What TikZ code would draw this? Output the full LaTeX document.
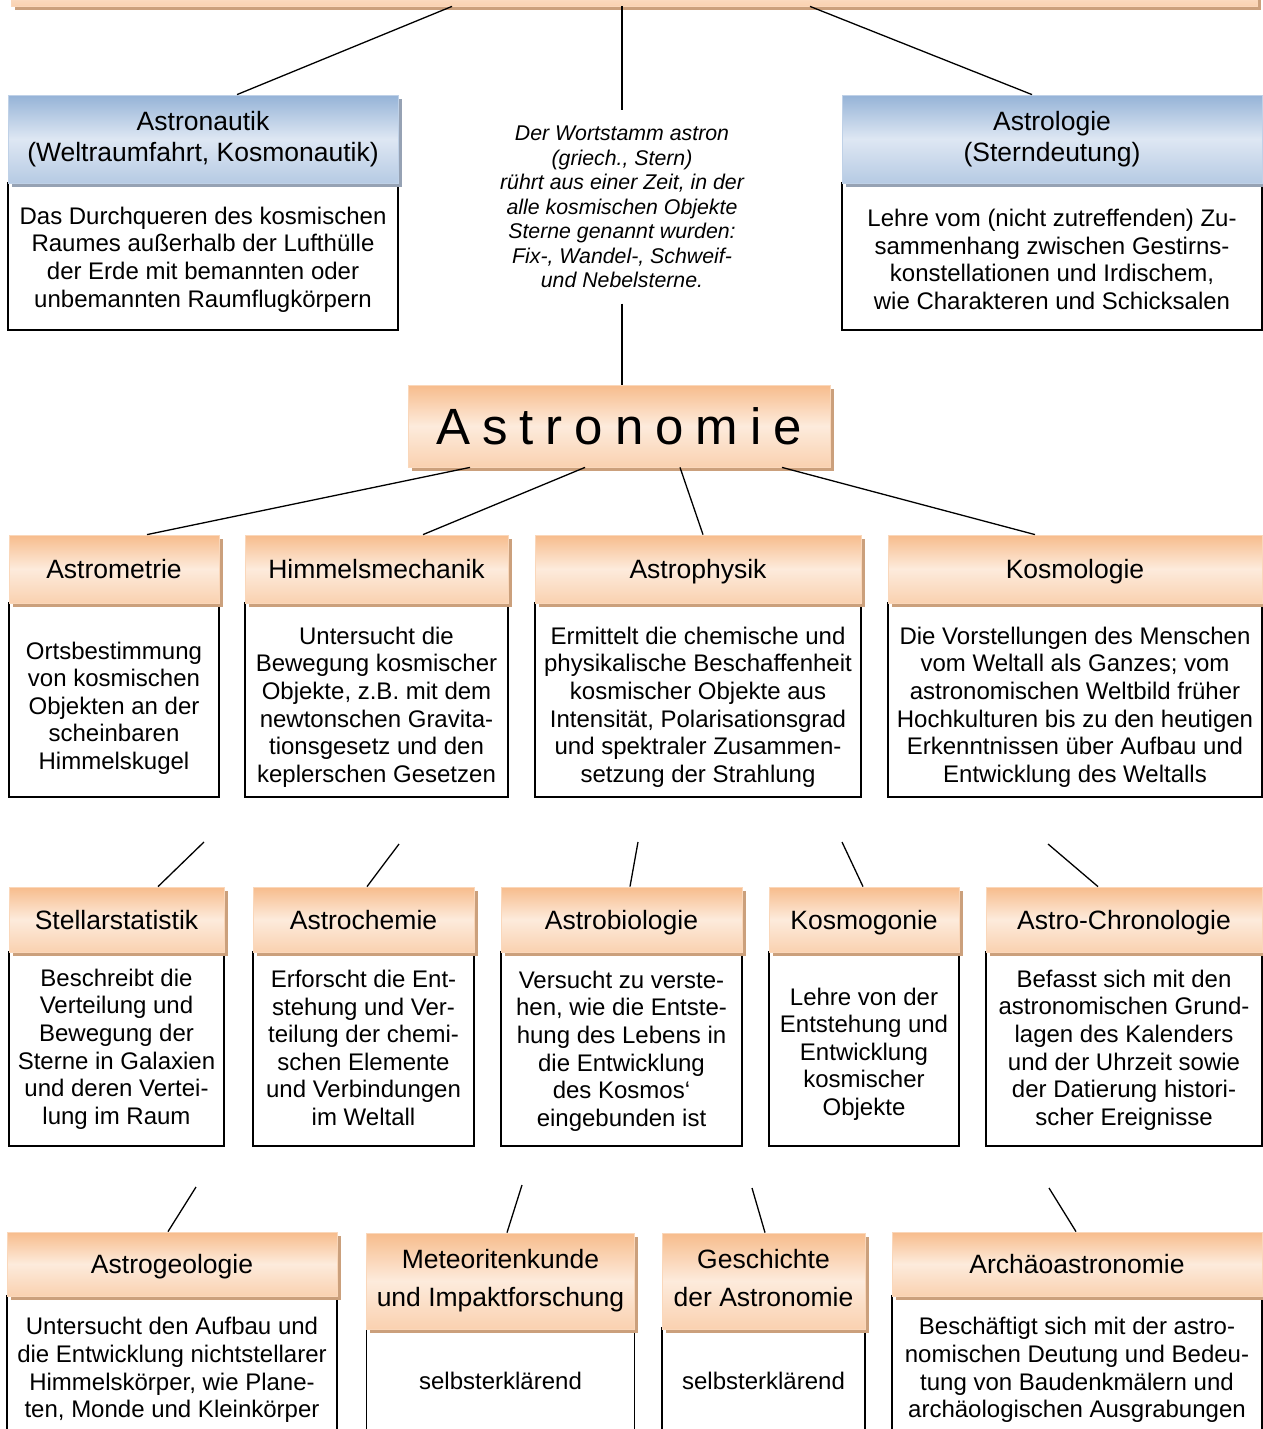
\documentclass[tikz,border=0pt]{standalone}
\usepackage{fontspec}
\setmainfont{Liberation Sans}
\newfontfamily\spacedfont[LetterSpace=23.5]{Liberation Sans}
\usetikzlibrary{shadows}
\definecolor{hdrcol}{RGB}{247,188,140}
\definecolor{hdrlight}{RGB}{253,235,220}
\definecolor{hdrshade}{RGB}{203,160,124}
\definecolor{bluecol}{RGB}{149,179,215}
\definecolor{bluelight}{RGB}{222,231,243}
\definecolor{blueshade}{RGB}{150,162,180}

\begin{document}
\begin{tikzpicture}[
    x=1pt, y=-1pt,
    line width=1.3pt,
    boxbase/.style={rectangle, inner sep=0pt, align=center, line width=0.8pt,
      font=\fontsize{26.5}{31}\selectfont},
    orangehdr/.style={boxbase, draw=hdrcol!60!white,
      top color=hdrcol, bottom color=hdrcol!55!hdrlight, middle color=hdrlight,
      general shadow={fill=hdrshade, shadow xshift=3.5pt, shadow yshift=-4pt}},
    bluehdr/.style={boxbase, draw=bluecol!60!white,
      top color=bluecol, bottom color=bluecol!55!bluelight, middle color=bluelight,
      general shadow={fill=blueshade, shadow xshift=3.5pt, shadow yshift=-4pt}},
    oneline/.style={text depth=0pt},
    twoline/.style={font=\fontsize{26.5}{38}\selectfont},
    txtbox/.style={rectangle, draw=black, fill=white, line width=1.4pt, inner sep=0pt},
    txt/.style={align=center, inner sep=0pt, font=\fontsize{24}{27.6}\selectfont},
    link/.style={draw=black, line width=1.3pt}
  ]
  \useasboundingbox (0,0) rectangle (1263,1429);

  % --- top strip (cut off) ----------------------------------------------
  \node[orangehdr, minimum width=1246pt, minimum height=42pt] (Top) at (634,-15) {};

  % --- row 1: Astronautik, word stem, Astrologie -------------------------
  \node[txtbox, minimum width=390pt, minimum height=147pt] (NautBox) at (203,256.5) {};
  \node[txt] (NautTxt) at (203,259.5)
    {Das Durchqueren des kosmischen\\Raumes außerhalb der Lufthülle\\der Erde mit bemannten oder\\unbemannten Raumflugkörpern};
  \node[bluehdr, minimum width=390pt, minimum height=88pt] (Naut) at (203,139)
    {Astronautik\\(Weltraumfahrt, Kosmonautik)};

  \node[txtbox, minimum width=420pt, minimum height=147pt] (LogieBox) at (1052,256.5) {};
  \node[txt] (LogieTxt) at (1052,259.5)
    {Lehre vom (nicht zutreffenden) Zu-\\sammenhang zwischen Gestirns-\\konstellationen und Irdischem,\\wie Charakteren und Schicksalen};
  \node[bluehdr, minimum width=420pt, minimum height=88pt] (Logie) at (1052,139)
    {Astrologie\\(Sterndeutung)};

  \node[align=center, inner sep=0pt, minimum height=192pt,
        font=\itshape\fontsize{21.3}{24.5}\selectfont] (Wort) at (622,207)
    {Der Wortstamm astron\\(griech., Stern)\\rührt aus einer Zeit, in der\\alle kosmischen Objekte\\Sterne genannt wurden:\\Fix-, Wandel-, Schweif-\\und Nebelsterne.};

  % --- Astronomie ---------------------------------------------------------
  \node[orangehdr, oneline, minimum width=422pt, minimum height=82pt,
        font=\spacedfont\fontsize{51}{60}\selectfont] (Astro) at (619,426) {Astronomie};

  % --- row 2 --------------------------------------------------------------
  \node[txtbox, minimum width=210pt, minimum height=194pt] (MetrieBox) at (114,700) {};
  \node[txt] (MetrieTxt) at (114,708)
    {Ortsbestimmung\\von kosmischen\\Objekten an der\\scheinbaren\\Himmelskugel};
  \node[orangehdr, oneline, minimum width=210pt, minimum height=68pt] (Metrie) at (114,569) {Astrometrie};

  \node[txtbox, minimum width=263pt, minimum height=194pt] (MechBox) at (376.5,700) {};
  \node[txt] (MechTxt) at (376.5,707)
    {Untersucht die\\Bewegung kosmischer\\Objekte, z.B. mit dem\\newtonschen Gravita-\\tionsgesetz und den\\keplerschen Gesetzen};
  \node[orangehdr, oneline, minimum width=263pt, minimum height=68pt] (Mech) at (376.5,569) {Himmelsmechanik};

  \node[txtbox, minimum width=326pt, minimum height=194pt] (PhysBox) at (698,700) {};
  \node[txt] (PhysTxt) at (698,707)
    {Ermittelt die chemische und\\physikalische Beschaffenheit\\kosmischer Objekte aus\\Intensität, Polarisationsgrad\\und spektraler Zusammen-\\setzung der Strahlung};
  \node[orangehdr, oneline, minimum width=326pt, minimum height=68pt] (Phys) at (698,569) {Astrophysik};

  \node[txtbox, minimum width=374pt, minimum height=194pt] (KosmoBox) at (1075,700) {};
  \node[txt] (KosmoTxt) at (1075,707)
    {Die Vorstellungen des Menschen\\vom Weltall als Ganzes; vom\\astronomischen Weltbild früher\\Hochkulturen bis zu den heutigen\\Erkenntnissen über Aufbau und\\Entwicklung des Weltalls};
  \node[orangehdr, oneline, minimum width=374pt, minimum height=68pt] (Kosmo) at (1075,569) {Kosmologie};

  % --- row 3 --------------------------------------------------------------
  \node[txtbox, minimum width=215pt, minimum height=194pt] (StellarBox) at (116.5,1049) {};
  \node[txt] (StellarTxt) at (116.5,1049)
    {Beschreibt die\\Verteilung und\\Bewegung der\\Sterne in Galaxien\\und deren Vertei-\\lung im Raum};
  \node[orangehdr, oneline, minimum width=215pt, minimum height=65pt] (Stellar) at (116.5,919.5) {Stellarstatistik};

  \node[txtbox, minimum width=221pt, minimum height=194pt] (ChemieBox) at (363.5,1049) {};
  \node[txt] (ChemieTxt) at (363.5,1048)
    {Erforscht die Ent-\\stehung und Ver-\\teilung der chemi-\\schen Elemente\\und Verbindungen\\im Weltall};
  \node[orangehdr, oneline, minimum width=221pt, minimum height=65pt] (Chemie) at (363.5,919.5) {Astrochemie};

  \node[txtbox, minimum width=241pt, minimum height=194pt] (BioBox) at (621.5,1049) {};
  \node[txt] (BioTxt) at (621.5,1051)
    {Versucht zu verste-\\hen, wie die Entste-\\hung des Lebens in\\die Entwicklung\\des Kosmos‘\\eingebunden ist};
  \node[orangehdr, oneline, minimum width=241pt, minimum height=65pt] (Bio) at (621.5,919.5) {Astrobiologie};

  \node[txtbox, minimum width=190pt, minimum height=194pt] (GonieBox) at (864,1049) {};
  \node[txt] (GonieTxt) at (864,1054)
    {Lehre von der\\Entstehung und\\Entwicklung\\kosmischer\\Objekte};
  \node[orangehdr, oneline, minimum width=190pt, minimum height=65pt] (Gonie) at (864,919.5) {Kosmogonie};

  \node[txtbox, minimum width=276pt, minimum height=194pt] (ChronoBox) at (1124,1049) {};
  \node[txt] (ChronoTxt) at (1124,1050)
    {Befasst sich mit den\\astronomischen Grund-\\lagen des Kalenders\\und der Uhrzeit sowie\\der Datierung histori-\\scher Ereignisse};
  \node[orangehdr, oneline, minimum width=276pt, minimum height=65pt] (Chrono) at (1124,919.5) {Astro-Chronologie};

  % --- row 4 (cut off at the bottom) --------------------------------------
  \node[txtbox, minimum width=330pt, minimum height=144pt] (GeoBox) at (172,1368) {};
  \node[txt] (GeoTxt) at (172,1370)
    {Untersucht den Aufbau und\\die Entwicklung nichtstellarer\\Himmelskörper, wie Plane-\\ten, Monde und Kleinkörper};
  \node[orangehdr, oneline, minimum width=330pt, minimum height=64pt] (Geo) at (172,1264) {Astrogeologie};

  \node[txtbox, minimum width=268pt, minimum height=106pt] (MeteorBox) at (500.5,1381) {};
  \node[txt] (MeteorTxt) at (500.5,1381) {selbsterklärend};
  \node[orangehdr, twoline, minimum width=268pt, minimum height=96pt] (Meteor) at (500.5,1281)
    {Meteoritenkunde\\und Impaktforschung};

  \node[txtbox, minimum width=203pt, minimum height=106pt] (GeschBox) at (763.5,1381) {};
  \node[txt] (GeschTxt) at (763.5,1381) {selbsterklärend};
  \node[orangehdr, twoline, minimum width=203pt, minimum height=96pt] (Gesch) at (763.5,1281)
    {Geschichte\\der Astronomie\vphantom{g}};

  \node[txtbox, minimum width=370pt, minimum height=144pt] (ArchBox) at (1077,1368) {};
  \node[txt] (ArchTxt) at (1077,1370)
    {Beschäftigt sich mit der astro-\\nomischen Deutung und Bedeu-\\tung von Baudenkmälern und\\archäologischen Ausgrabungen};
  \node[orangehdr, oneline, minimum width=370pt, minimum height=64pt] (Arch) at (1077,1264) {Archäoastronomie};

  % --- loose line ends ----------------------------------------------------
  \coordinate (StellarUp) at (204,842);
  \coordinate (ChemieUp)  at (399,844);
  \coordinate (BioUp)     at (638,842);
  \coordinate (GonieUp)   at (842,842);
  \coordinate (ChronoUp)  at (1048,844);
  \coordinate (GeoUp)     at (196,1187);
  \coordinate (MeteorUp)  at (522,1185);
  \coordinate (GeschUp)   at (752,1188);
  \coordinate (ArchUp)    at (1049,1188);

  % --- connectors ---------------------------------------------------------
  \draw[link] ([xshift=-182pt]Top.south) -- ([xshift=34pt]Naut.north);
  \draw[link] ([xshift=-12pt]Top.south) -- (Wort.north);
  \draw[link] ([xshift=176pt]Top.south) -- ([xshift=-20pt]Logie.north);
  \draw[link] (Wort.south) -- (Wort.south |- Astro.north);

  \draw[link] ([xshift=-149pt]Astro.south) -- ([xshift=33pt]Metrie.north);
  \draw[link] ([xshift=-34pt]Astro.south) -- ([xshift=46.5pt]Mech.north);
  \draw[link] ([xshift=61pt]Astro.south) -- ([xshift=5pt]Phys.north);
  \draw[link] ([xshift=163pt]Astro.south) -- ([xshift=-40pt]Kosmo.north);

  \draw[link] (StellarUp) -- ([xshift=41.5pt]Stellar.north);
  \draw[link] (ChemieUp) -- ([xshift=3.5pt]Chemie.north);
  \draw[link] (BioUp) -- ([xshift=8.5pt]Bio.north);
  \draw[link] (GonieUp) -- ([xshift=-1pt]Gonie.north);
  \draw[link] (ChronoUp) -- ([xshift=-26pt]Chrono.north);

  \draw[link] (GeoUp) -- ([xshift=-4pt]Geo.north);
  \draw[link] (MeteorUp) -- ([xshift=6.5pt]Meteor.north);
  \draw[link] (GeschUp) -- ([xshift=1.5pt]Gesch.north);
  \draw[link] (ArchUp) -- ([xshift=-1pt]Arch.north);

\end{tikzpicture}
\end{document}
